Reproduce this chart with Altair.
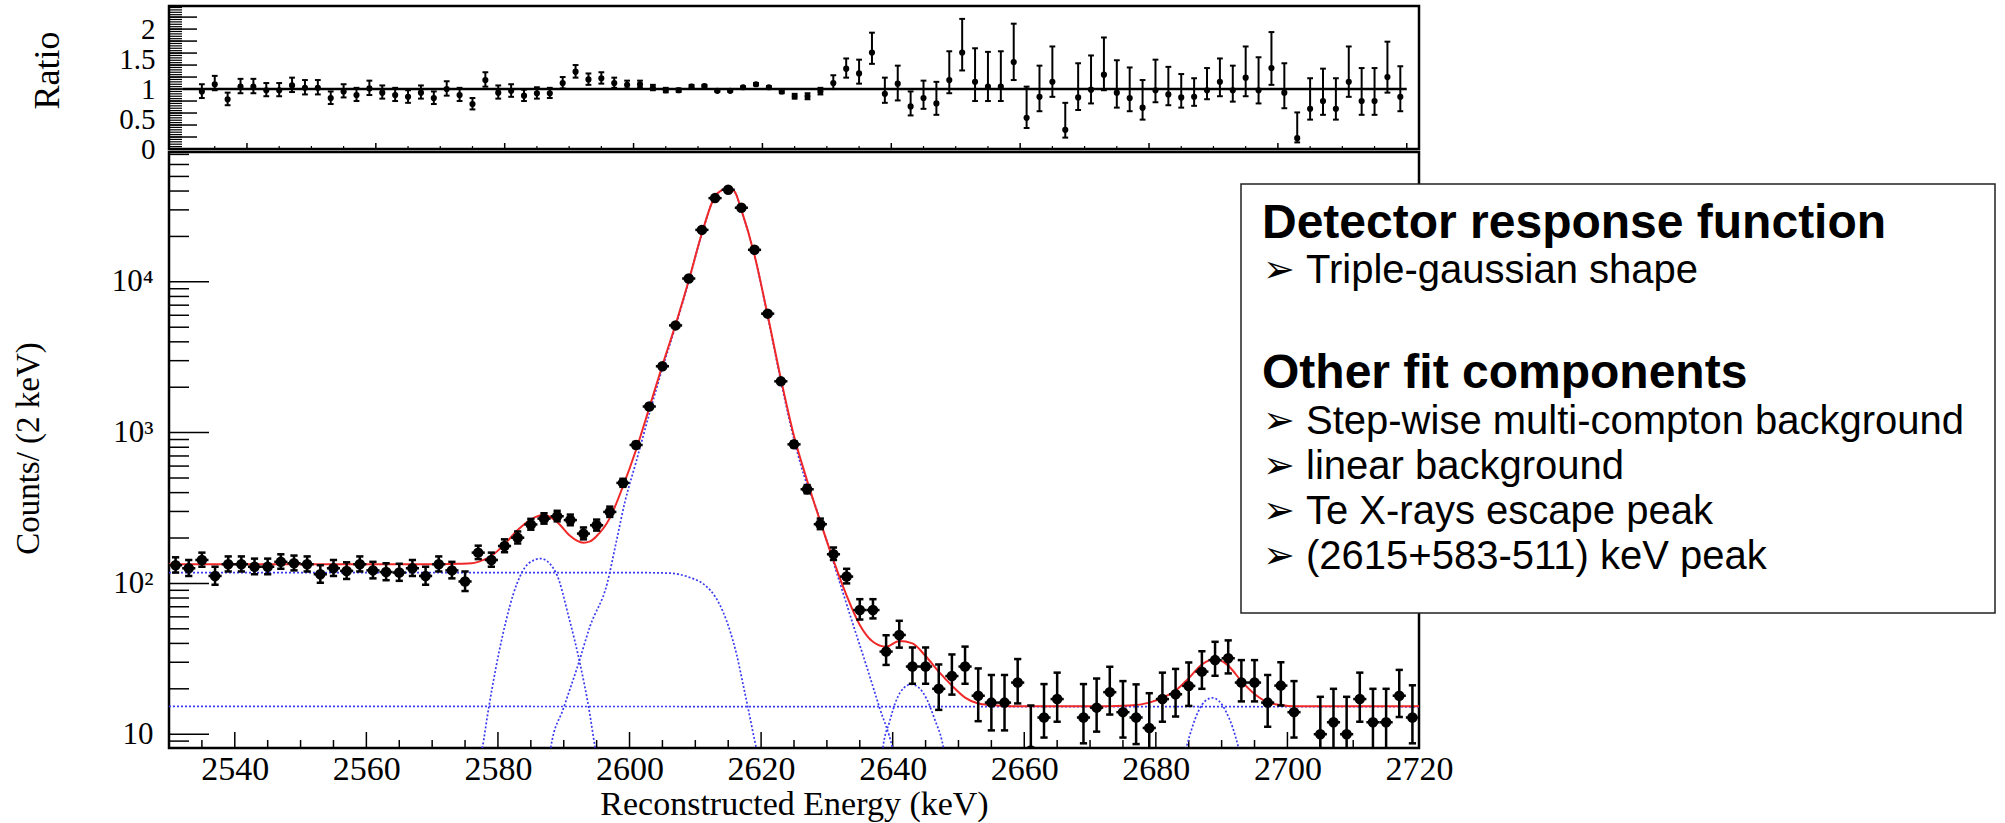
import altair as alt
import pandas as pd

# ---------------- data ----------------
# main panel: 2 keV bins, centres 2531 ... 2719
bin_centers = list(range(2531, 2720, 2))
counts = [132, 126, 143, 112, 134, 134, 129, 129, 139, 136,
          134, 115, 126, 121, 134, 122, 119, 118, 126, 112,
          134, 122, 103, 160, 143, 177, 201, 246, 269, 279,
          263, 214, 243, 298, 464, 828, 1490, 2754, 5140, 10520,
          22100, 35900, 40800, 31000, 16300, 6150, 2188, 836, 421, 247,
          156, 111, 66.6, 66.6, 35.3, 45.5, 28.1, 28.1, 20, 24.3,
          28.1, 18, 16.2, 16.2, 22, 7.8, 12.9, 17.1, 4.8, 12.9,
          15, 19, 14, 12.9, 11, 17.1, 18.4, 20.9, 26, 31,
          31.9, 22, 22, 16.2, 21, 14, 2.7, 10, 12, 10,
          17.1, 12, 12, 18, 12.9]
count_err_up = ([17] * 23 +
                [18, 17, 19, 20, 22, 23, 24, 23, 21, 22, 25] +
                [30, 40, 55, 75, 100, 140, 200, 250, 270, 240, 170, 110, 65, 40, 28, 22] +
                [17, 14, 12, 12, 10, 11, 9.5, 9.5, 9, 9.5, 10] +
                [9.3, 8.5, 8.5, 9.5, 7.7, 8.6, 8.5, 0, 8.6, 8.4, 9, 8.5, 8.5, 7.7, 8.5, 8.7, 9,
                 9.5, 10, 10, 9, 9, 8.5, 9, 8.5, 0, 7.7, 8, 7.7, 8.5, 8, 8, 8.7, 8.2])
count_err_dn = ([14] * 23 +
                [15, 14, 16, 17, 19, 20, 21, 20, 18, 19, 22] +
                [27, 36, 50, 70, 95, 135, 195, 245, 265, 235, 165, 105, 60, 36, 25, 18] +
                [13, 11, 9, 8, 6.5, 8, 6.5, 6.5, 5.5, 6, 6.5] +
                [5.8, 5.6, 5.6, 6, 3.5, 3.4, 5, 0, 4.2, 4.6, 5.5, 4.5, 4.3, 3.8, 5, 5.3, 5.5,
                 6, 6.6, 6.6, 5.5, 5.5, 5, 5.5, 4.5, 0, 3.6, 4, 3.6, 5, 4, 4, 5, 4.2])

# ratio panel: centres 2533 ... 2719
ratio_centers = list(range(2533, 2720, 2))
ratio = [0.96, 1.08, 0.83, 1.04, 1.04, 0.98, 0.98, 1.06, 1.02, 1.02,
         0.85, 0.96, 0.90, 1.01, 0.94, 0.90, 0.87, 0.94, 0.85, 1.00,
         0.90, 0.75, 1.15, 0.94, 0.97, 0.89, 0.93, 0.93, 1.10, 1.29,
         1.16, 1.18, 1.10, 1.07, 1.08, 1.02, 0.98, 0.98, 1.04,
         1.05, 0.97, 0.97, 1.03, 1.08, 1.03, 0.96, 0.88, 0.88, 0.96,
         1.10, 1.34, 1.26, 1.61, 0.92, 1.09, 0.71, 0.85, 0.76, 1.15,
         1.61, 1.12, 1.04, 1.04, 1.45, 0.52, 0.87, 1.12, 0.32, 0.86,
         0.99, 1.24, 0.94, 0.85, 0.69, 0.98, 0.91, 0.86, 0.87, 0.98,
         1.12, 0.98, 1.19, 0.98, 1.35, 0.94, 0.18, 0.67, 0.80, 0.67,
         1.12, 0.80, 0.80, 1.20, 0.87]
ratio_err_up = ([0.12, 0.14, 0.11, 0.13, 0.13, 0.12, 0.12, 0.13, 0.13, 0.13, 0.11,
                 0.12, 0.12, 0.13, 0.12, 0.12, 0.11, 0.12, 0.11, 0.13, 0.12, 0.10] +
                [0.13, 0.12, 0.11, 0.10, 0.10, 0.09, 0.10, 0.11, 0.10, 0.10, 0.09, 0.07,
                 0.06, 0.05, 0.04, 0.03, 0.03] +
                [0.02, 0.015, 0.015, 0.015, 0.02, 0.02, 0.03, 0.04, 0.05, 0.06] +
                [0.13, 0.17, 0.23, 0.33, 0.27, 0.30, 0.25, 0.29, 0.36, 0.48, 0.56, 0.56,
                 0.58, 0.59, 0.64, 0.52, 0.52, 0.59, 0.45, 0.57, 0.57, 0.62, 0.54, 0.51,
                 0.46, 0.51, 0.46, 0.39, 0.31, 0.37, 0.39, 0.41, 0.52, 0.55, 0.60, 0.49,
                 0.43, 0.51, 0.54, 0.51, 0.59, 0.55, 0.55, 0.59, 0.51])
ratio_err_dn = ([0.11, 0.10, 0.10, 0.11, 0.11, 0.10, 0.10, 0.11, 0.11, 0.11, 0.10,
                 0.10, 0.10, 0.11, 0.10, 0.10, 0.10, 0.10, 0.10, 0.11, 0.10, 0.09] +
                [0.11, 0.10, 0.10, 0.09, 0.09, 0.08, 0.09, 0.10, 0.09, 0.09, 0.08, 0.06,
                 0.05, 0.04, 0.035, 0.03, 0.025] +
                [0.02, 0.015, 0.015, 0.015, 0.02, 0.02, 0.03, 0.04, 0.05, 0.05] +
                [0.10, 0.15, 0.17, 0.19, 0.15, 0.28, 0.15, 0.18, 0.19, 0.22, 0.30, 0.32,
                 0.24, 0.24, 0.30, 0.17, 0.24, 0.25, 0.13, 0.21, 0.23, 0.26, 0.25, 0.22,
                 0.20, 0.20, 0.18, 0.17, 0.15, 0.15, 0.24, 0.19, 0.31, 0.22, 0.28, 0.26,
                 0.07, 0.18, 0.23, 0.18, 0.25, 0.23, 0.23, 0.26, 0.24])

# fit curves (sampled from the figure)
fit_total_x = [2530, 2540, 2550, 2560, 2570, 2574, 2576, 2577, 2579, 2581,
               2583, 2585, 2587, 2589, 2591, 2592, 2593, 2594, 2595, 2597,
               2599, 2601, 2603, 2605, 2607, 2609, 2611, 2613, 2614, 2615,
               2616, 2617, 2619, 2621, 2623, 2625, 2627, 2629, 2631, 2633,
               2635, 2637, 2639, 2641, 2643, 2645, 2647, 2649, 2651, 2653,
               2655, 2658, 2670, 2676, 2679, 2681, 2683, 2685, 2687, 2689,
               2691, 2693, 2695, 2697, 2699, 2701, 2720]
fit_total_y = [134, 134, 134, 134, 134, 135, 136, 139, 152, 182,
               226, 265, 285, 255, 206, 192, 186, 190, 206, 271,
               440, 770, 1460, 2800, 5200, 10200, 21000, 37000, 40500, 42000,
               39500, 30000, 15000, 6000, 2280, 950, 480, 257, 142, 83,
               53, 41, 38, 41.5, 40, 33, 26, 21, 17.5, 16,
               15.6, 15.3, 15.3, 15.5, 16.2, 17.4, 19.5, 23.5, 29, 31.5,
               28.5, 22.5, 18.5, 16.3, 15.6, 15.3, 15.3]
peak_x = [2587.6, 2588, 2590, 2592.2, 2594, 2596.6, 2598, 2599.3, 2601, 2603,
          2605, 2607, 2609, 2611, 2613, 2614, 2615, 2616, 2617, 2619,
          2621, 2623, 2625, 2627, 2628, 2630, 2632, 2634, 2636, 2638, 2640, 2640.6]
peak_y = [6, 8, 15, 29, 52, 100, 190, 347, 640, 1330,
          2670, 5070, 10070, 20870, 36870, 40400, 41900, 39400, 29900, 14900,
          5900, 2200, 900, 450, 350, 190, 100, 53, 28.5, 15, 8, 6]
compton_x = [2530, 2600, 2606, 2609, 2611.5, 2613, 2614.2, 2615.3, 2616.3, 2617.2, 2618, 2619.3, 2620]
compton_y = [118, 118, 117, 110, 97, 82, 65, 48, 33.5, 22, 15, 8, 6]
escape_x = [2577, 2577.6, 2578.6, 2580.7, 2582.9, 2584.6, 2586.5, 2588.8, 2590.8, 2592.5, 2593.8, 2594.8, 2595.3]
escape_y = [6, 8, 15, 45, 100, 135, 146, 118, 59, 29, 15, 8, 6]
te_x = [2638.2, 2638.5, 2639.5, 2640.6, 2641.7, 2642.8, 2644.0, 2645.2, 2646.4, 2647.5, 2648.0]
te_y = [6, 8, 12, 17, 20.3, 21.4, 20.3, 17, 12.5, 9, 7]
sum_x = [2684.3, 2684.6, 2685.5, 2686.5, 2687.5, 2688.6, 2689.6, 2690.6, 2691.7, 2692.6, 2692.9]
sum_y = [7, 8, 11, 14.3, 16.6, 17.4, 16.6, 14.3, 11, 8, 7]
linear_x = [2530, 2720]
linear_y = [15.3, 15.2]

# axis ticks / labels
main_x_labels = list(range(2540, 2721, 20))
main_x_minor = [v for v in range(2535, 2720, 5) if v % 20 != 0]
main_y_labels = [10, 100, 1000, 10000]
main_y_minor = [9] + [k * 10 ** d for d in (1, 2, 3) for k in range(2, 10)] + [k * 10000 for k in range(2, 8)]
ratio_y_labels = [0, 0.5, 1, 1.5, 2]
ratio_y_medium = [round(0.2 * k, 2) for k in range(0, 12)]
ratio_y_small = [round(0.04 * k, 2) for k in range(0, 60)]
ratio_x_major = list(range(2540, 2721, 20))
ratio_x_minor = [v for v in range(2535, 2720, 5) if v % 20 != 0]

box_titles = ["Detector response function", "Other fit components"]
box_bullets = ["Triple-gaussian shape", "Step-wise multi-compton background",
               "linear background", "Te X-rays escape peak", "(2615+583-511) keV peak"]

# ---------------- sizes / styles ----------------
W = 1250
H_R = 143
H_M = 596
SERIF = "Liberation Serif"
SANS = "Liberation Sans"
BLUE = "#3a3af0"
RED = "#f02828"

x_main = alt.Scale(domain=[2530, 2720], nice=False, zero=False)
y_main = alt.Scale(type="log", domain=[8.1, 72600], nice=False)
x_rat = alt.Scale(domain=[2527.9, 2721.9], nice=False, zero=False)
y_rat = alt.Scale(domain=[0, 2.385], nice=False, zero=False)

# axes (identical object used in every layer of a panel so that they merge)
ratio_x_axis = alt.Axis(values=ratio_x_major, labels=False, ticks=False, tickSize=0, domain=False,
                        grid=False, title=None)
ratio_y_axis = alt.Axis(values=ratio_y_labels, format="~g", labelFont=SERIF, labelFontSize=29,
                        labelColor="black", labelPadding=14, ticks=False, tickSize=0, domain=False,
                        grid=False, labelFlush=False, labelOverlap=False,
                        title="Ratio", titleFont=SERIF, titleFontSize=36, titleFontWeight="normal",
                        titleColor="black", titleAngle=270, titleX=-111, titleY=64,
                        titleBaseline="alphabetic", titleAlign="center")
main_x_axis = alt.Axis(values=main_x_labels, format="d", labelFont=SERIF, labelFontSize=34,
                       labelColor="black", labelPadding=4, ticks=False, tickSize=0, domain=False,
                       grid=False, labelFlush=False, labelOverlap=False, labelBound=False,
                       title="Reconstructed Energy (keV)", titleFont=SERIF, titleFontSize=34,
                       titleFontWeight="normal", titleColor="black", titleY=66,
                       titleBaseline="alphabetic")
main_y_axis = alt.Axis(values=main_y_labels,
                       labelExpr="datum.value == 10 ? '10' : datum.value == 100 ? '10\u00b2' : datum.value == 1000 ? '10\u00b3' : '10\u2074'",
                       labelFont=SERIF, labelFontSize=31, labelColor="black", labelPadding=16,
                       ticks=False, tickSize=0, domain=False, grid=False, labelFlush=False,
                       labelOverlap=False,
                       title="Counts/ (2 keV)", titleFont=SERIF, titleFontSize=33,
                       titleFontWeight="normal", titleColor="black", titleAngle=270,
                       titleX=-131, titleY=296, titleBaseline="alphabetic", titleAlign="center")


def RX(f):
    return alt.X(f, type="quantitative", scale=x_rat, axis=ratio_x_axis)


def RY(f):
    return alt.Y(f, type="quantitative", scale=y_rat, axis=ratio_y_axis)


def MX(f):
    return alt.X(f, type="quantitative", scale=x_main, axis=main_x_axis)


def MY(f):
    return alt.Y(f, type="quantitative", scale=y_main, axis=main_y_axis)


# ---------------- ratio panel ----------------
rdf = pd.DataFrame({"E": ratio_centers, "R": ratio, "up": ratio_err_up, "dn": ratio_err_dn})
rdf["hi"] = rdf.R + rdf.up
rdf["lo"] = rdf.R - rdf.dn
rdf["cl"] = rdf.E - 0.45
rdf["ch"] = rdf.E + 0.45

r_ytick_small = alt.Chart(pd.DataFrame({"v": ratio_y_small})).mark_rule(color="black", strokeWidth=1.2).encode(
    y=RY("v"), x=alt.value(0), x2=alt.value(13))
r_ytick_med = alt.Chart(pd.DataFrame({"v": ratio_y_medium})).mark_rule(color="black", strokeWidth=1.5).encode(
    y=RY("v"), x=alt.value(0), x2=alt.value(28))
r_xtick_major = alt.Chart(pd.DataFrame({"v": ratio_x_major})).mark_rule(color="black", strokeWidth=1.5).encode(
    x=RX("v"), y=alt.value(H_R), y2=alt.value(H_R - 6))
r_xtick_minor = alt.Chart(pd.DataFrame({"v": ratio_x_minor})).mark_rule(color="black", strokeWidth=1.2).encode(
    x=RX("v"), y=alt.value(H_R), y2=alt.value(H_R - 3))
r_unit = alt.Chart(pd.DataFrame({"a": [2530], "b": [2720], "y": [1]})).mark_rule(
    color="black", strokeWidth=2.5).encode(x=RX("a"), x2="b:Q", y=RY("y"))
r_err = alt.Chart(rdf).mark_rule(color="black", strokeWidth=2, clip=True).encode(
    x=RX("E"), y=RY("lo"), y2="hi:Q")
r_cap_hi = alt.Chart(rdf).mark_rule(color="black", strokeWidth=2, clip=True).encode(
    x=RX("cl"), x2="ch:Q", y=RY("hi"))
r_cap_lo = alt.Chart(rdf).mark_rule(color="black", strokeWidth=2, clip=True).encode(
    x=RX("cl"), x2="ch:Q", y=RY("lo"))
r_pts = alt.Chart(rdf).mark_circle(color="black", opacity=1, size=38, clip=True).encode(
    x=RX("E"), y=RY("R"))

ratio_panel = alt.layer(r_ytick_small, r_ytick_med, r_xtick_major, r_xtick_minor, r_unit,
                        r_err, r_cap_hi, r_cap_lo, r_pts).properties(width=W, height=H_R)

# ---------------- main panel ----------------
mdf = pd.DataFrame({"E": bin_centers, "N": counts, "up": count_err_up, "dn": count_err_dn})
mdf["hi"] = mdf.N + mdf.up
mdf["lo"] = (mdf.N - mdf.dn).clip(lower=1)
mdf["El"] = mdf.E - 1
mdf["Eh"] = mdf.E + 1
mdf["cl"] = mdf.E - 0.55
mdf["ch"] = mdf.E + 0.55
edf = mdf[mdf.up > 0]

m_ytick_major = alt.Chart(pd.DataFrame({"v": main_y_labels})).mark_rule(color="black", strokeWidth=1.5).encode(
    y=MY("v"), x=alt.value(0), x2=alt.value(40))
m_ytick_minor = alt.Chart(pd.DataFrame({"v": main_y_minor})).mark_rule(color="black", strokeWidth=1.5).encode(
    y=MY("v"), x=alt.value(0), x2=alt.value(20))
m_xtick_major = alt.Chart(pd.DataFrame({"v": main_x_labels})).mark_rule(color="black", strokeWidth=1.5).encode(
    x=MX("v"), y=alt.value(H_M), y2=alt.value(H_M - 16))
m_xtick_minor = alt.Chart(pd.DataFrame({"v": main_x_minor})).mark_rule(color="black", strokeWidth=1.5).encode(
    x=MX("v"), y=alt.value(H_M), y2=alt.value(H_M - 8))


def curve(xs, ys, color, dashed):
    props = dict(color=color, clip=True, interpolate="monotone")
    if dashed:
        props.update(strokeDash=[2, 2], strokeWidth=1.7)
    else:
        props.update(strokeWidth=2)
    return alt.Chart(pd.DataFrame({"x": xs, "y": ys})).mark_line(**props).encode(
        x=MX("x"), y=MY("y"))


c_lin = curve(linear_x, linear_y, BLUE, True)
c_comp = curve(compton_x, compton_y, BLUE, True)
c_esc = curve(escape_x, escape_y, BLUE, True)
c_peak = curve(peak_x, peak_y, BLUE, True)
c_te = curve(te_x, te_y, BLUE, True)
c_sum = curve(sum_x, sum_y, BLUE, True)
c_tot = curve(fit_total_x, fit_total_y, RED, False)

m_err = alt.Chart(edf).mark_rule(color="black", strokeWidth=2.5, clip=True).encode(
    x=MX("E"), y=MY("lo"), y2="hi:Q")
m_cap_hi = alt.Chart(edf).mark_rule(color="black", strokeWidth=2.5, clip=True).encode(
    x=MX("cl"), x2="ch:Q", y=MY("hi"))
m_cap_lo = alt.Chart(edf).mark_rule(color="black", strokeWidth=2.5, clip=True).encode(
    x=MX("cl"), x2="ch:Q", y=MY("lo"))
m_bin = alt.Chart(mdf).mark_rule(color="black", strokeWidth=2.5, clip=True).encode(
    x=MX("El"), x2="Eh:Q", y=MY("N"))
m_pts = alt.Chart(mdf).mark_circle(color="black", opacity=1, size=110, clip=True).encode(
    x=MX("E"), y=MY("N"))

box = alt.Chart(pd.DataFrame({"a": [0]})).mark_rect(fill="white", stroke="#222222", strokeWidth=1.5).encode(
    x=alt.value(1072), x2=alt.value(1826), y=alt.value(32), y2=alt.value(461))

text_layers = []
for t, yy in zip(box_titles, [86, 236]):
    text_layers.append(alt.Chart(pd.DataFrame({"t": [t]})).mark_text(
        align="left", baseline="alphabetic", font=SANS, fontSize=48, fontWeight="bold", color="black").encode(
        text="t:N", x=alt.value(1093), y=alt.value(yy)))
for t, yy in zip(box_bullets, [131, 282, 327, 372, 417]):
    text_layers.append(alt.Chart(pd.DataFrame({"t": [t]})).mark_text(
        align="left", baseline="alphabetic", font=SANS, fontSize=40, color="black").encode(
        text="t:N", x=alt.value(1137), y=alt.value(yy)))
    text_layers.append(alt.Chart(pd.DataFrame({"t": ["\u27a2"]})).mark_text(
        align="left", baseline="middle", font="DejaVu Sans", fontSize=38, color="black").encode(
        text="t:N", x=alt.value(1094), y=alt.value(yy - 12)))

main_panel = alt.layer(m_ytick_major, m_ytick_minor, m_xtick_major, m_xtick_minor,
                       c_lin, c_comp, c_esc, c_peak, c_te, c_sum, c_tot,
                       m_err, m_cap_hi, m_cap_lo, m_bin, m_pts, box, *text_layers
                       ).properties(width=W, height=H_M)

chart = alt.vconcat(ratio_panel, main_panel, spacing=3, bounds="flush").resolve_scale(
    x="independent", y="independent").properties(
    padding={"left": 10, "top": 4, "right": 5, "bottom": 0}, background="white"
).configure_view(stroke="black", strokeWidth=2.5).configure_axis(grid=False)

chart.save("out.html", embed_options={"renderer": "svg", "actions": False})
